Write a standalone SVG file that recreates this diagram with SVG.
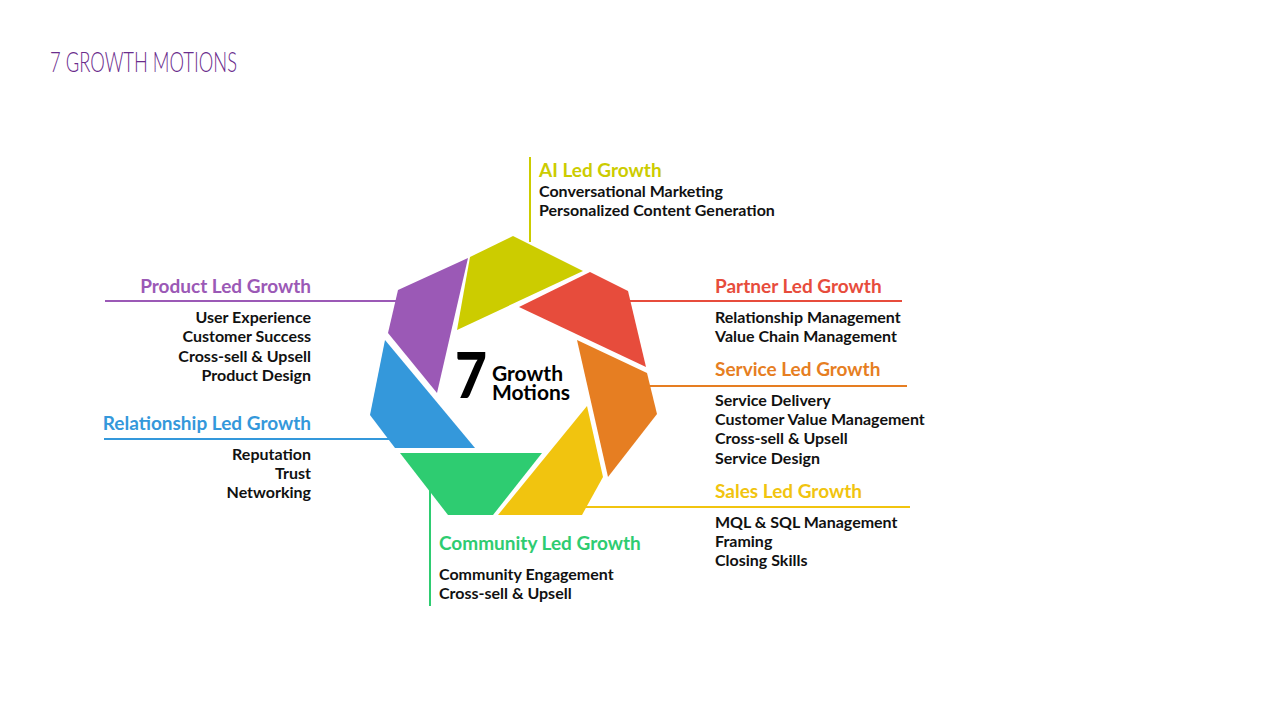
<svg xmlns="http://www.w3.org/2000/svg" width="1279" height="719" viewBox="0 0 1279 719">
<style>
.h{font-family:Lato,"Liberation Sans",sans-serif;font-weight:bold;font-size:19px}
.b{font-family:Lato,"Liberation Sans",sans-serif;font-weight:bold;font-size:16px;fill:#111}
.r{text-anchor:end}
.ln{stroke-width:2;fill:none}
</style>
<rect width="1279" height="719" fill="#fff"/>
<text x="50" y="72" font-family="Lato,'Liberation Sans',sans-serif" font-weight="300" font-size="27" fill="#6a2c8c" textLength="187" lengthAdjust="spacingAndGlyphs">7 GROWTH MOTIONS</text>
<g id="connectors">
<line class="ln" stroke="#cccc00" x1="530" y1="157" x2="530" y2="242"/>
<line class="ln" stroke="#9b59b6" x1="105" y1="301" x2="398" y2="301"/>
<line class="ln" stroke="#e74c3c" x1="628" y1="301" x2="902" y2="301"/>
<line class="ln" stroke="#e67e22" x1="650" y1="386" x2="907" y2="386"/>
<line class="ln" stroke="#3498db" x1="104" y1="439" x2="390" y2="439"/>
<line class="ln" stroke="#f1c40f" x1="585" y1="507" x2="910" y2="507"/>
<line class="ln" stroke="#2ecc71" x1="430" y1="490" x2="430" y2="606"/>
</g>
<g id="ai"><polygon points="470,257 513,236 583,271 457,330" fill="#cccc00"/>
<text class="h" x="539" y="177" fill="#cccc00">AI Led Growth</text>
<text class="b" x="539" y="197">Conversational Marketing</text><text class="b" x="539" y="216">Personalized Content Generation</text></g>
<g id="partner"><polygon points="519,307 590,272 628,291 646,367" fill="#e74c3c"/>
<text class="h" x="715" y="293" fill="#e74c3c">Partner Led Growth</text>
<text class="b" x="715" y="323">Relationship Management</text><text class="b" x="715" y="342">Value Chain Management</text></g>
<g id="service"><polygon points="577,340 647,373 657,414 608,477" fill="#e67e22"/>
<text class="h" x="715" y="376" fill="#e67e22">Service Led Growth</text>
<text class="b" x="715" y="406">Service Delivery</text><text class="b" x="715" y="425">Customer Value Management</text><text class="b" x="715" y="444">Cross-sell &amp; Upsell</text><text class="b" x="715" y="464">Service Design</text></g>
<g id="sales"><polygon points="587,406 603,477 582,515 498,515" fill="#f1c40f"/>
<text class="h" x="715" y="498" fill="#f1c40f">Sales Led Growth</text>
<text class="b" x="715" y="528">MQL &amp; SQL Management</text><text class="b" x="715" y="547">Framing</text><text class="b" x="715" y="566">Closing Skills</text></g>
<g id="community"><polygon points="400,453 542,453 493,515 448,515" fill="#2ecc71"/>
<text class="h" x="439" y="550" fill="#2ecc71">Community Led Growth</text>
<text class="b" x="439" y="580">Community Engagement</text><text class="b" x="439" y="599">Cross-sell &amp; Upsell</text></g>
<g id="relationship"><polygon points="385,340 475,448 395,448 370,415" fill="#3498db"/>
<text class="h r" x="311" y="430" fill="#3498db">Relationship Led Growth</text>
<text class="b r" x="311" y="460">Reputation</text><text class="b r" x="311" y="479">Trust</text><text class="b r" x="311" y="498">Networking</text></g>
<g id="product"><polygon points="398,290 468,258 437,393 388,333" fill="#9b59b6"/>
<text class="h r" x="311" y="293" fill="#9b59b6">Product Led Growth</text>
<text class="b r" x="311" y="323">User Experience</text><text class="b r" x="311" y="342">Customer Success</text><text class="b r" x="311" y="362">Cross-sell &amp; Upsell</text><text class="b r" x="311" y="381">Product Design</text></g>
<g id="center" font-family="Lato,'Liberation Sans',sans-serif" font-weight="bold" fill="#000">
<text x="455" y="398" font-size="62" font-weight="900" textLength="32" lengthAdjust="spacingAndGlyphs">7</text>
<text x="492" y="381" font-size="21">Growth</text>
<text x="492" y="400" font-size="21">Motions</text>
</g>
</svg>
